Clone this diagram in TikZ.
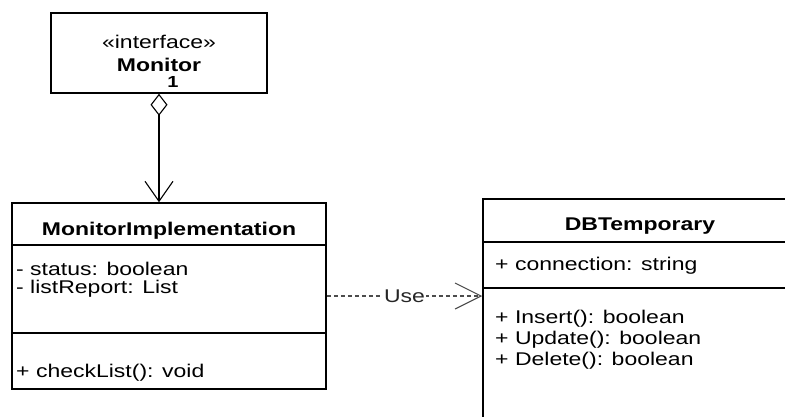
\documentclass[tikz,border=0pt]{standalone}
\usepackage{fontspec}
\setmainfont{Liberation Sans}
\usetikzlibrary{arrows.meta}

\newcommand{\squash}[1]{\scalebox{1}[0.8]{#1}}

\tikzset{
  classbox/.style={draw, line width=1.5pt, rectangle, inner sep=0pt},
  member/.style={anchor=base west, inner sep=0pt, font=\fontsize{23}{27}\selectfont},
  title/.style={anchor=base, inner sep=0pt, font=\fontsize{23}{27}\selectfont\bfseries},
}

\begin{document}
\begin{tikzpicture}[x=1pt, y=-1pt]

    \clip (0,0) rectangle (785,416);
    \fill[white] (0,0) rectangle (785,416);

    % Interface box
    \node[classbox, minimum width=216pt, minimum height=80pt] (monitor) at (159,53) {};
    \node[member, anchor=base] (stereo) at (159,48) {\squash{«interface»}};
    \node[title] (monitorname) at (159,71) {\squash{Monitor}};
    \node[title, font=\fontsize{20}{24}\selectfont\bfseries] (mult) at (173,87) {\squash{1}};

    % Implementation class
    \node[classbox, minimum width=314pt, minimum height=186pt] (impl) at (169,296) {};
    \node[title] (implname) at (169,235) {\squash{MonitorImplementation}};
    \draw[line width=1.5pt] (12,245) -- (326,245);
    \draw[line width=1.5pt] (12,333) -- (326,333);
    \node[member] (status) at (16,275) {\squash{- status: boolean}};
    \node[member] (report) at (16,293) {\squash{- listReport: List}};
    \node[member] (check) at (16,377) {\squash{+ checkList(): void}};

    % DB class (runs off the right and bottom edge)
    \node[classbox, minimum width=317pt, minimum height=231pt] (db) at (641.5,314.5) {};
    \node[title] (dbname) at (640,230) {\squash{DBTemporary}};
    \draw[line width=1.5pt] (483,242) -- (800,242);
    \draw[line width=1.5pt] (483,288) -- (800,288);
    \node[member] (conn) at (495,270) {\squash{+ connection: string}};
    \node[member] (insert) at (495,323) {\squash{+ Insert(): boolean}};
    \node[member] (update) at (495,344) {\squash{+ Update(): boolean}};
    \node[member] (delete) at (495,365) {\squash{+ Delete(): boolean}};

    % Aggregation
    \draw[line width=1.1pt, {Diamond[open, length=22pt, width=17pt]}-{Straight Barb[length=20pt, width=28pt]}]
        (monitor.south) -- (monitor.south |- impl.north);

    % Dependency
    \draw[line width=1.1pt, black!70, dash pattern=on 4pt off 3pt, -{Straight Barb[length=26pt, width=26pt]}]
        (impl.east) -- (impl.east -| db.west)
        node[midway, fill=white, inner sep=1pt, text=black!85, font=\fontsize{23}{27}\selectfont] (use) {\squash{Use}};

\end{tikzpicture}
\end{document}
